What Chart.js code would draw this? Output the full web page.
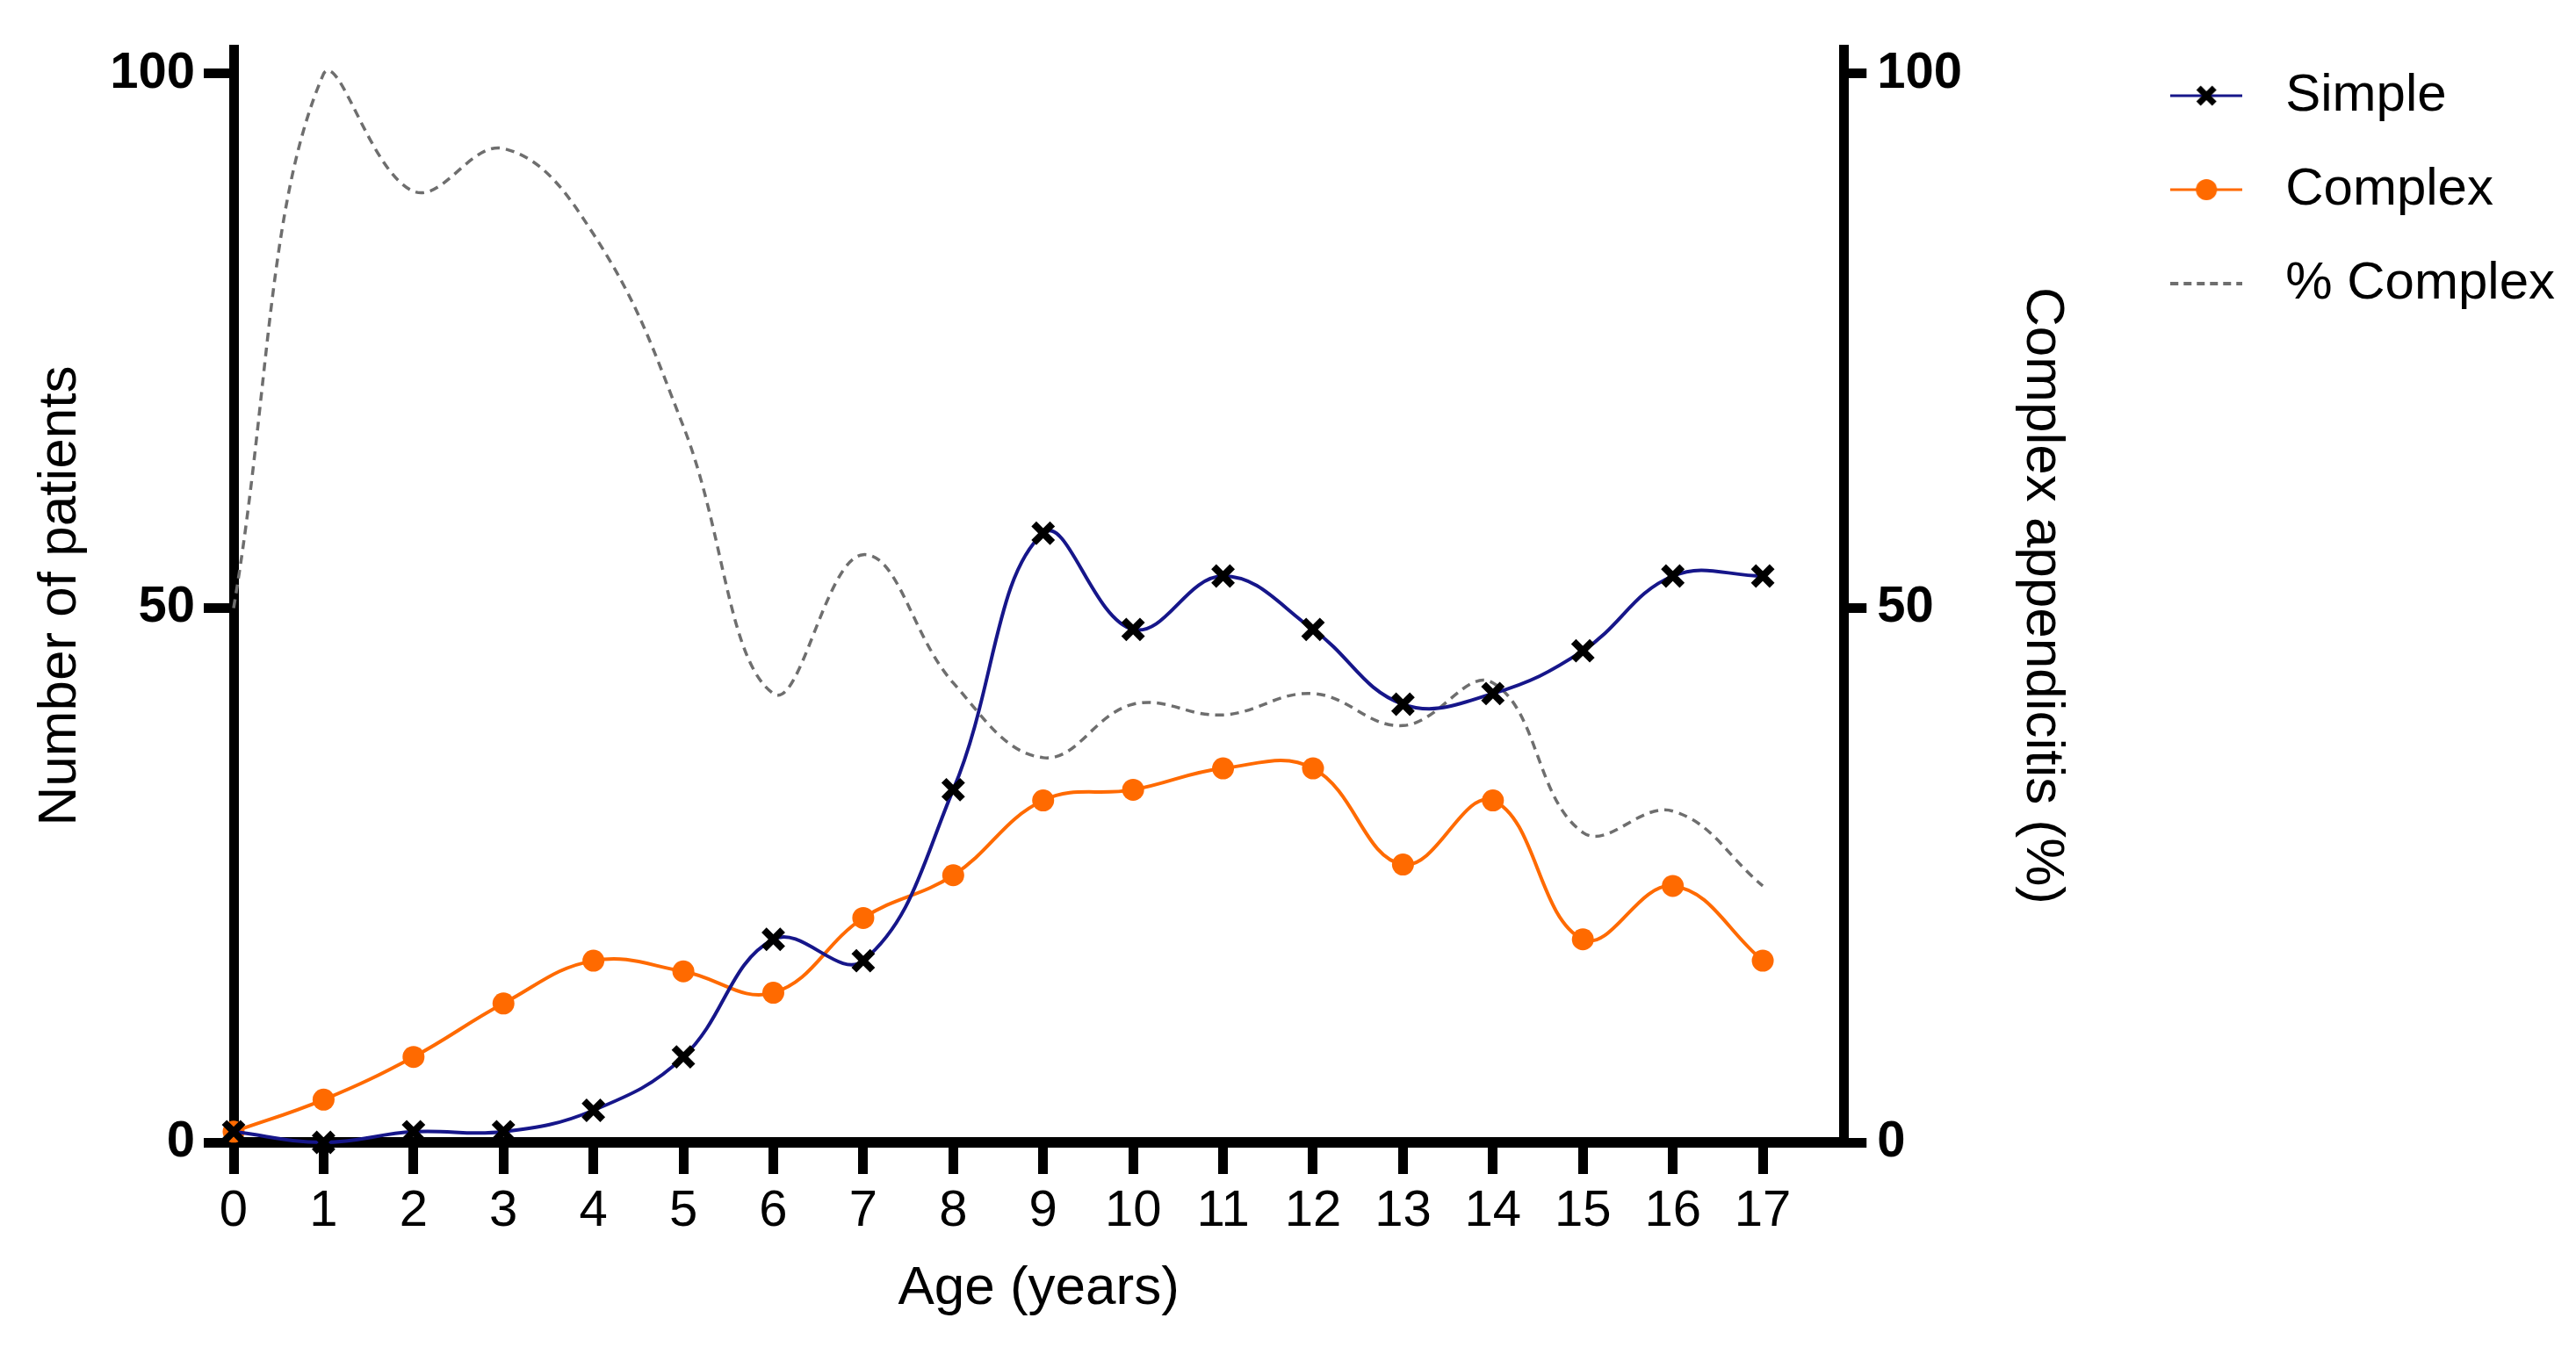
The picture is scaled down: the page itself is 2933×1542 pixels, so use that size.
<!DOCTYPE html>
<html>
<head>
<meta charset="utf-8">
<script src="https://cdn.jsdelivr.net/npm/chart.js@4.4.1/dist/chart.umd.min.js"></script>
<style>
  html, body { margin: 0; padding: 0; background: #fff; overflow: hidden; }
  #wrap { width: 2933px; height: 1542px; }
</style>
</head>
<body>
<div id="wrap"><canvas id="ageChart"></canvas></div>
<script>
// values
const ages = [0, 1, 2, 3, 4, 5, 6, 7, 8, 9, 10, 11, 12, 13, 14, 15, 16, 17];
const simpleCases = [1, 0, 1, 1, 3, 8, 19, 17, 33, 57, 48, 53, 48, 41, 42, 46, 53, 53];
const complexCases = [1, 4, 8, 13, 17, 16, 14, 21, 25, 32, 33, 35, 35, 26, 32, 19, 24, 17];
const complexPercent = [50, 100, 89, 93, 85, 67, 42, 55, 43, 36, 41, 40, 42, 39, 43, 29, 31, 24];
const countTicks = [0, 50, 100];
const percentTicks = [0, 50, 100];

const NAVY = '#16168a';
const ORANGE = '#ff6a00';
const GREY = '#6e6e6e';
const FONT = "'Liberation Sans', Arial, sans-serif";

Chart.defaults.font.family = FONT;
Chart.defaults.color = '#000';

// little line + marker samples for the legend
function makeIcon(draw) {
  const c = document.createElement('canvas');
  c.width = 82;
  c.height = 32;
  draw(c.getContext('2d'));
  return c;
}

const legendIcons = [
  makeIcon(g => {
    g.strokeStyle = NAVY;
    g.lineWidth = 3;
    g.beginPath(); g.moveTo(0, 16); g.lineTo(82, 16); g.stroke();
    g.strokeStyle = '#000';
    g.lineWidth = 7;
    g.beginPath();
    g.moveTo(32, 7); g.lineTo(50, 25);
    g.moveTo(50, 7); g.lineTo(32, 25);
    g.stroke();
  }),
  makeIcon(g => {
    g.strokeStyle = ORANGE;
    g.lineWidth = 3;
    g.beginPath(); g.moveTo(0, 16); g.lineTo(82, 16); g.stroke();
    g.fillStyle = ORANGE;
    g.beginPath(); g.arc(41, 16, 12, 0, Math.PI * 2); g.fill();
  }),
  makeIcon(g => {
    g.strokeStyle = GREY;
    g.lineWidth = 4;
    g.setLineDash([9, 6]);
    g.beginPath(); g.moveTo(0, 16); g.lineTo(82, 16); g.stroke();
  })
];

const ctx = document.getElementById('ageChart').getContext('2d');

new Chart(ctx, {
  type: 'line',
  data: {
    labels: ages,
    datasets: [
      {
        label: 'Simple',
        data: simpleCases,
        yAxisID: 'y',
        borderColor: NAVY,
        borderWidth: 4,
        tension: 0.4,
        fill: false,
        clip: false,
        pointStyle: 'crossRot',
        pointRadius: 15,
        pointBorderWidth: 8,
        pointBorderColor: '#000',
        pointBackgroundColor: '#000'
      },
      {
        label: 'Complex',
        data: complexCases,
        yAxisID: 'y',
        borderColor: ORANGE,
        borderWidth: 4,
        tension: 0.4,
        fill: false,
        clip: false,
        pointStyle: 'circle',
        pointRadius: 12.5,
        pointBorderWidth: 0,
        pointBackgroundColor: ORANGE
      },
      {
        label: '% Complex',
        data: complexPercent,
        yAxisID: 'y1',
        borderColor: GREY,
        borderWidth: 3.5,
        borderDash: [10, 7],
        tension: 0.4,
        fill: false,
        clip: false,
        pointRadius: 0
      }
    ]
  },
  options: {
    responsive: true,
    maintainAspectRatio: false,
    devicePixelRatio: 1,
    animation: false,
    layout: {
      padding: { top: 32, right: 14, bottom: 0, left: 0 }
    },
    plugins: {
      tooltip: { enabled: false },
      // empty spacer above the plot only, so the legend can sit higher
      title: {
        display: true,
        text: '',
        fullSize: false,
        padding: 0,
        font: { size: 24, lineHeight: 1 }
      },
      legend: {
        position: 'right',
        align: 'start',
        maxWidth: 700,
        labels: {
          usePointStyle: true,
          pointStyleWidth: 120,
          padding: 47,
          color: '#000',
          font: { size: 60 },
          generateLabels: chart => {
            const items = Chart.defaults.plugins.legend.labels.generateLabels(chart);
            items.forEach(item => {
              item.pointStyle = legendIcons[item.datasetIndex];
              item.rotation = 0;
            });
            return items;
          }
        }
      }
    },
    scales: {
      x: {
        type: 'linear',
        min: 0,
        max: 17.9,
        afterBuildTicks: s => { s.ticks = ages.map(v => ({ value: v })); },
        afterFit: s => { s.height = 241; },
        grid: { drawOnChartArea: false, color: '#000', lineWidth: 11, tickLength: 36 },
        border: { color: '#000', width: 12 },
        ticks: { color: '#000', font: { size: 58 }, padding: 8, maxRotation: 0, autoSkip: false },
        title: {
          display: true,
          text: 'Age (years)',
          color: '#000',
          font: { size: 62 },
          padding: { top: 0, bottom: 37 }
        }
      },
      y: {
        position: 'left',
        min: 0,
        max: 102.3,
        afterBuildTicks: s => { s.ticks = countTicks.map(v => ({ value: v })); },
        afterFit: s => { s.width = 266; },
        grid: { drawOnChartArea: false, color: '#000', lineWidth: 11, tickLength: 34 },
        border: { color: '#000', width: 11 },
        ticks: { color: '#000', font: { size: 58, weight: 'bold' }, padding: 10 },
        title: {
          display: true,
          text: 'Number of patients',
          color: '#000',
          font: { size: 62 },
          padding: { top: 32, bottom: 0 }
        }
      },
      y1: {
        position: 'right',
        min: 0,
        max: 102.3,
        afterBuildTicks: s => { s.ticks = percentTicks.map(v => ({ value: v })); },
        afterFit: s => { s.width = 306; },
        grid: { drawOnChartArea: false, color: '#000', lineWidth: 11, tickLength: 26 },
        border: { color: '#000', width: 11 },
        ticks: { color: '#000', font: { size: 58, weight: 'bold' }, padding: 12 },
        title: {
          display: true,
          text: 'Complex appendicitis (%)',
          color: '#000',
          font: { size: 62 },
          padding: { top: 43, bottom: 0 }
        }
      }
    }
  }
});
</script>
</body>
</html>
